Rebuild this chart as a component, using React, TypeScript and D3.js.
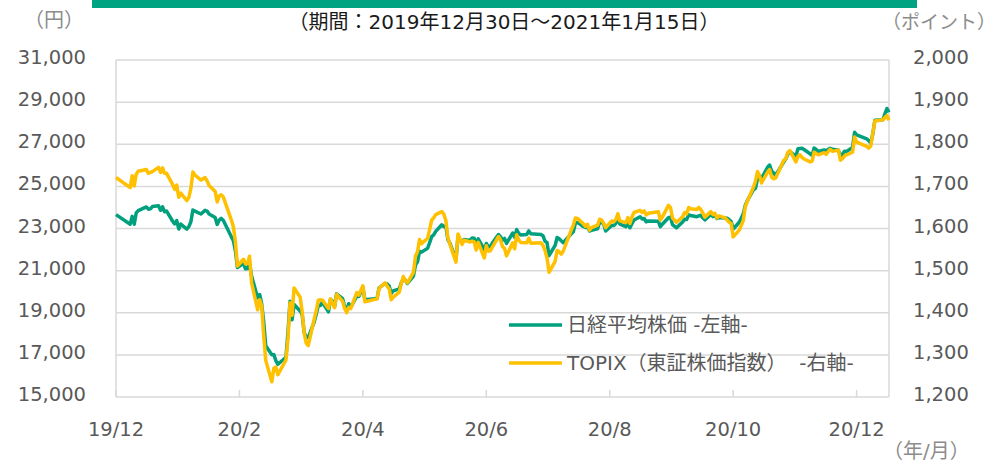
import React from 'react';
import * as d3 from 'd3';

// trading days (one line per month)
const dates: string[] = [
  '2019-12-30',
  '2020-01-06','2020-01-07','2020-01-08','2020-01-09','2020-01-10','2020-01-14','2020-01-15','2020-01-16','2020-01-17','2020-01-20','2020-01-21','2020-01-22','2020-01-23','2020-01-24','2020-01-27','2020-01-28','2020-01-29','2020-01-30','2020-01-31',
  '2020-02-03','2020-02-04','2020-02-05','2020-02-06','2020-02-07','2020-02-10','2020-02-12','2020-02-13','2020-02-14','2020-02-17','2020-02-18','2020-02-19','2020-02-20','2020-02-21','2020-02-25','2020-02-26','2020-02-27','2020-02-28',
  '2020-03-02','2020-03-03','2020-03-04','2020-03-05','2020-03-06','2020-03-09','2020-03-10','2020-03-11','2020-03-12','2020-03-13','2020-03-16','2020-03-17','2020-03-18','2020-03-19','2020-03-23','2020-03-24','2020-03-25','2020-03-26','2020-03-27','2020-03-30','2020-03-31',
  '2020-04-01','2020-04-02','2020-04-03','2020-04-06','2020-04-07','2020-04-08','2020-04-09','2020-04-10','2020-04-13','2020-04-14','2020-04-15','2020-04-16','2020-04-17','2020-04-20','2020-04-21','2020-04-22','2020-04-23','2020-04-24','2020-04-27','2020-04-28','2020-04-30',
  '2020-05-01','2020-05-07','2020-05-08','2020-05-11','2020-05-12','2020-05-13','2020-05-14','2020-05-15','2020-05-18','2020-05-19','2020-05-20','2020-05-21','2020-05-22','2020-05-25','2020-05-26','2020-05-27','2020-05-28','2020-05-29',
  '2020-06-01','2020-06-02','2020-06-03','2020-06-04','2020-06-05','2020-06-08','2020-06-09','2020-06-10','2020-06-11','2020-06-12','2020-06-15','2020-06-16','2020-06-17','2020-06-18','2020-06-19','2020-06-22','2020-06-23','2020-06-24','2020-06-25','2020-06-26','2020-06-29','2020-06-30',
  '2020-07-01','2020-07-02','2020-07-03','2020-07-06','2020-07-07','2020-07-08','2020-07-09','2020-07-10','2020-07-13','2020-07-14','2020-07-15','2020-07-16','2020-07-17','2020-07-20','2020-07-21','2020-07-22','2020-07-27','2020-07-28','2020-07-29','2020-07-30','2020-07-31',
  '2020-08-03','2020-08-04','2020-08-05','2020-08-06','2020-08-07','2020-08-11','2020-08-12','2020-08-13','2020-08-14','2020-08-17','2020-08-18','2020-08-19','2020-08-20','2020-08-21','2020-08-24','2020-08-25','2020-08-26','2020-08-27','2020-08-28','2020-08-31',
  '2020-09-01','2020-09-02','2020-09-03','2020-09-04','2020-09-07','2020-09-08','2020-09-09','2020-09-10','2020-09-11','2020-09-14','2020-09-15','2020-09-16','2020-09-17','2020-09-18','2020-09-23','2020-09-24','2020-09-25','2020-09-28','2020-09-29','2020-09-30',
  '2020-10-02','2020-10-05','2020-10-06','2020-10-07','2020-10-08','2020-10-09','2020-10-12','2020-10-13','2020-10-14','2020-10-15','2020-10-16','2020-10-19','2020-10-20','2020-10-21','2020-10-22','2020-10-23','2020-10-26','2020-10-27','2020-10-28','2020-10-29','2020-10-30',
  '2020-11-02','2020-11-04','2020-11-05','2020-11-06','2020-11-09','2020-11-10','2020-11-11','2020-11-12','2020-11-13','2020-11-16','2020-11-17','2020-11-18','2020-11-19','2020-11-20','2020-11-24','2020-11-25','2020-11-26','2020-11-27','2020-11-30',
  '2020-12-01','2020-12-02','2020-12-03','2020-12-04','2020-12-07','2020-12-08','2020-12-09','2020-12-10','2020-12-11','2020-12-14','2020-12-15','2020-12-16','2020-12-17','2020-12-18','2020-12-21','2020-12-22','2020-12-23','2020-12-24','2020-12-25','2020-12-28','2020-12-29','2020-12-30',
  '2021-01-04','2021-01-05','2021-01-06','2021-01-07','2021-01-08','2021-01-12','2021-01-13','2021-01-14','2021-01-15',
];

// 日経平均株価 (円)
const nikkei: number[] = [
  23657,
  23205,23576,23205,23740,23851,24025,23917,23933,24041,24084,23865,24031,23795,23827,23344,23216,23379,22978,23205,
  22972,23085,23320,23874,23828,23686,23861,23828,23688,23523,23194,23401,23479,23387,22605,22426,21948,21143,
  21344,21083,21100,21329,20750,19699,19867,19416,18560,17431,17002,17012,16727,16553,16888,18092,19547,18665,19389,19085,18917,
  18065,17819,17820,18576,18950,19353,19346,19499,19043,19639,19550,19290,19897,19669,19281,19138,19429,19262,19783,19771,20194,
  19619,19675,20179,20391,20366,20267,19915,20037,20134,20433,20595,20552,20388,20742,21271,21419,21916,21878,
  22062,22326,22614,22696,22864,23178,23091,23125,22473,22305,21531,22582,22456,22355,22479,22437,22549,22534,22260,22512,21995,22288,
  22122,22146,22306,22714,22615,22439,22529,22291,22785,22587,22946,22770,22696,22717,22884,22752,22716,22657,22397,22339,21710,
  22195,22574,22515,22418,22330,22750,22844,23250,23289,23097,23051,23111,22881,22920,22986,23297,23291,23209,22883,23140,
  23138,23247,23466,23205,23090,23274,23033,23235,23406,23559,23455,23476,23319,23360,23346,23088,23205,23512,23539,23185,
  23030,23312,23434,23423,23647,23620,23559,23602,23627,23507,23411,23671,23567,23639,23474,23517,23494,23486,23419,23332,22977,
  23295,23695,24105,24325,24840,24906,25350,25521,25386,25907,26015,25728,25634,25527,26166,26297,26537,26645,26434,
  26788,26801,26809,26751,26547,26467,26818,26756,26653,26732,26688,26757,26807,26763,26714,26436,26525,26668,26657,26854,27568,27444,
  27258,27159,27056,27490,28139,28164,28457,28698,28519,
];

// TOPIX (ポイント)
const topix: number[] = [
  1721,
  1697,1725,1701,1729,1736,1740,1731,1733,1735,1745,1733,1744,1731,1731,1704,1693,1703,1674,1684,
  1666,1674,1695,1734,1727,1715,1721,1713,1702,1688,1663,1677,1680,1675,1620,1604,1569,1511,
  1527,1516,1517,1534,1471,1407,1431,1416,1345,1287,1236,1268,1271,1253,1288,1339,1424,1394,1459,1437,1403,
  1351,1328,1322,1386,1406,1430,1431,1430,1410,1433,1422,1412,1444,1427,1410,1400,1413,1410,1448,1442,1464,
  1426,1433,1458,1471,1463,1457,1431,1437,1449,1470,1486,1476,1471,1496,1534,1545,1574,1564,
  1577,1598,1620,1625,1633,1640,1634,1619,1578,1563,1520,1587,1576,1562,1572,1568,1570,1568,1549,1567,1530,1559,
  1546,1547,1556,1581,1573,1557,1553,1535,1566,1552,1585,1573,1567,1566,1577,1565,1566,1560,1548,1530,1496,
  1522,1548,1545,1539,1546,1597,1608,1625,1624,1611,1605,1610,1596,1602,1608,1622,1620,1612,1602,1618,
  1616,1621,1635,1618,1614,1626,1612,1628,1638,1643,1638,1642,1632,1636,1640,1620,1627,1655,1650,1625,
  1615,1628,1638,1635,1650,1647,1645,1650,1645,1637,1627,1640,1633,1636,1625,1630,1625,1620,1615,1612,1580,
  1596,1619,1652,1665,1698,1712,1735,1725,1708,1734,1740,1722,1718,1720,1762,1765,1781,1785,1758,
  1771,1775,1769,1765,1758,1760,1781,1778,1775,1780,1776,1783,1788,1783,1786,1762,1766,1772,1775,1781,1817,1805,
  1795,1791,1796,1826,1855,1858,1864,1868,1857,
];

const leftTicks = [15000, 17000, 19000, 21000, 23000, 25000, 27000, 29000, 31000];
const rightTicks = [1200, 1300, 1400, 1500, 1600, 1700, 1800, 1900, 2000];
const xTickDates = ['2019-12-30', '2020-02-29', '2020-04-30', '2020-06-30', '2020-08-30', '2020-10-30', '2020-12-30'];
const xTickLabels = ['19/12', '20/2', '20/4', '20/6', '20/8', '20/10', '20/12'];
const xDomain = ['2019-12-30', '2021-01-15'];
const seriesNames = ['日経平均株価 -左軸-', 'TOPIX（東証株価指数）  -右軸-'];
const seriesColors = ['#00a07e', '#ffc000'];
const titleText = '（期間：2019年12月30日～2021年1月15日）';

const W = 999, H = 463;
const L = 116, R = 889, T = 60, B = 397;
const FONT = "'DejaVu Sans', 'Noto Sans CJK JP', sans-serif";
const GRID = '#d9d9d9';
const TXT = '#595959';
const UNIT = '#8c8c8c';

export default function App() {
  const parse = d3.timeParse('%Y-%m-%d');
  const x = d3.scaleTime().domain(xDomain.map((d) => parse(d) as Date)).range([L, R]);
  const yL = d3.scaleLinear().domain([15000, 31000]).range([B, T]);
  const yR = d3.scaleLinear().domain([1200, 2000]).range([B, T]);
  const ds = dates.map((d) => parse(d) as Date);
  const fmt = d3.format(',');

  const lineN = d3.line<number>().x((_, i) => x(ds[i])).y((v) => yL(v));
  const lineT = d3.line<number>().x((_, i) => x(ds[i])).y((v) => yR(v));

  return (
    <svg width={W} height={H} style={{ position: 'absolute', left: 0, top: 0, background: '#fff' }} fontFamily={FONT}>
      <rect x={0} y={0} width={W} height={H} fill="#fff" />
      <rect x={92} y={0} width={825} height={8} fill="#00a381" />
      <text x={504} y={29} textAnchor="middle" fontSize={20} fill="#1a1a1a" style={{ whiteSpace: 'pre' }}>{titleText}</text>
      <text x={24} y={27} fontSize={20} fill={UNIT}>（円）</text>
      <text x={996} y={29} textAnchor="end" fontSize={19} fill={UNIT}>（ポイント）</text>
      <text x={883} y={458} fontSize={20} fill={UNIT}>（年/月）</text>

      {leftTicks.map((v) => (
        <line key={'g' + v} x1={L} x2={R} y1={yL(v)} y2={yL(v)} stroke={GRID} strokeWidth={1.5} />
      ))}
      <line x1={L} x2={L} y1={T} y2={B} stroke={GRID} strokeWidth={1.5} />
      <line x1={R} x2={R} y1={T} y2={B} stroke={GRID} strokeWidth={1.5} />
      {xTickDates.map((d) => {
        const xx = x(parse(d) as Date);
        return <line key={'t' + d} x1={xx} x2={xx} y1={B - 7} y2={B} stroke={GRID} strokeWidth={1.5} />;
      })}

      {leftTicks.map((v) => (
        <text key={'l' + v} x={86} y={yL(v) + 4} textAnchor="end" fontSize={19.5} fill={TXT}>{fmt(v)}</text>
      ))}
      {rightTicks.map((v) => (
        <text key={'r' + v} x={913} y={yR(v) + 4} textAnchor="start" fontSize={19.5} fill={TXT}>{fmt(v)}</text>
      ))}
      {xTickDates.map((d, i) => (
        <text key={'x' + d} x={x(parse(d) as Date)} y={436} textAnchor="middle" fontSize={19.5} fill={TXT}>{xTickLabels[i]}</text>
      ))}

      <path d={lineN(nikkei) || ''} fill="none" stroke={seriesColors[0]} strokeWidth={3.5} strokeLinejoin="round" />
      <path d={lineT(topix) || ''} fill="none" stroke={seriesColors[1]} strokeWidth={3.5} strokeLinejoin="round" />

      {seriesNames.map((n, i) => {
        const yy = i === 0 ? 325 : 363;
        return (
          <g key={n}>
            <line x1={509} x2={562} y1={yy} y2={yy} stroke={seriesColors[i]} strokeWidth={3.5} />
            <text x={567} y={yy + 7} fontSize={20} fill={TXT} style={{ whiteSpace: 'pre' }}>{n}</text>
          </g>
        );
      })}
    </svg>
  );
}
